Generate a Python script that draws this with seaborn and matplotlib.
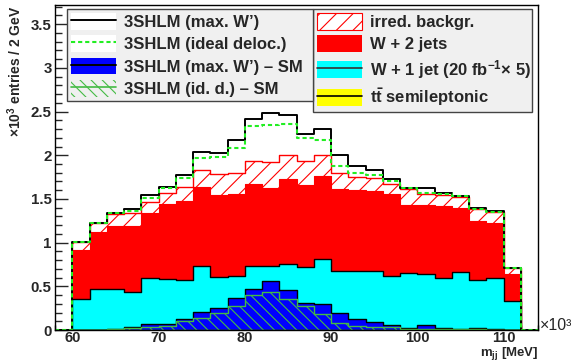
import numpy as np
import pandas as pd
import matplotlib
matplotlib.use("Agg")
import matplotlib.pyplot as plt
import seaborn as sns
from matplotlib.patches import Patch
from matplotlib.lines import Line2D
from matplotlib.legend_handler import HandlerTuple
from matplotlib.ticker import MultipleLocator

# ---------------- data (x10^3 entries / 2 GeV) ----------------
bin_low = [60, 62, 64, 66, 68, 70, 72, 74, 76, 78, 80, 82, 84,
           86, 88, 90, 92, 94, 96, 98, 100, 102, 104, 106, 108, 110]
bin_width = 2
w1jet = [0.35, 0.47, 0.47, 0.43, 0.59, 0.58, 0.57, 0.73, 0.61, 0.62, 0.73, 0.73, 0.76,
         0.72, 0.81, 0.68, 0.68, 0.67, 0.62, 0.65, 0.64, 0.60, 0.66, 0.57, 0.60, 0.33]
w2jet = [0.57, 0.65, 0.72, 0.76, 0.75, 0.86, 0.91, 0.91, 0.94, 0.94, 0.94, 0.90, 0.97,
         0.94, 0.95, 0.93, 0.92, 0.92, 0.94, 0.78, 0.79, 0.82, 0.74, 0.68, 0.63, 0.31]
irred = [0.09, 0.11, 0.14, 0.15, 0.13, 0.13, 0.16, 0.19, 0.23, 0.24, 0.27, 0.29, 0.27,
         0.27, 0.24, 0.19, 0.15, 0.15, 0.11, 0.18, 0.13, 0.13, 0.12, 0.13, 0.12, 0.07]
ttbar = [0.0] * 26
sig_maxw = [0.00, 0.00, 0.01, 0.04, 0.07, 0.07, 0.13, 0.21, 0.25, 0.37, 0.47, 0.56, 0.46,
            0.31, 0.30, 0.20, 0.13, 0.09, 0.06, 0.02, 0.06, 0.02, 0.01, 0.02, 0.01, 0.00]
sig_idd = [0.00, 0.00, 0.01, 0.02, 0.04, 0.05, 0.10, 0.14, 0.20, 0.28, 0.40, 0.43, 0.36,
           0.27, 0.18, 0.08, 0.05, 0.03, 0.03, 0.01, 0.01, 0.01, 0.01, 0.01, 0.00, 0.00]

xticks = [60, 70, 80, 90, 100, 110]
xtick_labels = ["60", "70", "80", "90", "100", "110"]
yticks = [0, 0.5, 1, 1.5, 2, 2.5, 3, 3.5]
ytick_labels = ["0", "0.5", "1", "1.5", "2", "2.5", "3", "3.5"]

legend_left_labels = ["3SHLM (max. W\u2019)", "3SHLM (ideal deloc.)",
                      "3SHLM (max. W\u2019) \u2013 SM", "3SHLM (id. d.) \u2013 SM"]
legend_right_labels = ["irred. backgr.", "W + 2 jets",
                       r"W + 1 jet (20 fb$^{-1}$$\times$ 5)", r"t$\bar{\rm t}$ semileptonic"]

# ---------------- style ----------------
sns.set_theme(style="ticks")
plt.rcParams["font.family"] = ["Liberation Sans", "DejaVu Sans"]
plt.rcParams["font.weight"] = "bold"
plt.rcParams["axes.labelweight"] = "bold"
plt.rcParams["mathtext.fontset"] = "custom"
plt.rcParams["mathtext.rm"] = "Liberation Sans:bold"
plt.rcParams["mathtext.bf"] = "Liberation Sans:bold"
plt.rcParams["mathtext.it"] = "Liberation Sans:bold:italic"
plt.rcParams["mathtext.default"] = "rm"
plt.rcParams["hatch.linewidth"] = 0.8

C_CYAN = "#00ffff"
C_RED = "#ff0000"
C_BLUE = "#0000ff"
C_YEL = "#ffff00"
C_GDASH = "#22ee22"
C_GHATCH = "#44bb44"
NONE = (1, 1, 1, 0)

fig = plt.figure(figsize=(5.71, 3.62), dpi=100)
ax = fig.add_axes([55 / 571, 1 - 330 / 362, 483 / 571, 325 / 362])

# ---------------- build tables ----------------
df = pd.DataFrame({
    "m": np.array(bin_low, dtype=float) + bin_width / 2,
    "w1jet": w1jet, "w2jet": w2jet, "irred": irred, "ttbar": ttbar,
    "sig_maxw": sig_maxw, "sig_idd": sig_idd,
})
edges = list(bin_low) + [bin_low[-1] + bin_width]
# cumulative stack (bottom -> top): ttbar, W+1 jet, W+2 jets, irred.
df["s_ttbar"] = df["ttbar"]
df["s_w1"] = df["s_ttbar"] + df["w1jet"]
df["s_w2"] = df["s_w1"] + df["w2jet"]
df["s_sm"] = df["s_w2"] + df["irred"]
df["tot_maxw"] = df["s_sm"] + df["sig_maxw"]
df["tot_idd"] = df["s_sm"] + df["sig_idd"]

# padded table for outline histograms (empty bins on either side)
pad = pd.DataFrame({"m": [bin_low[0] - bin_width / 2, bin_low[-1] + 1.5 * bin_width],
                    "tot_maxw": [0.0, 0.0], "tot_idd": [0.0, 0.0]})
dfl = pd.concat([df[["m", "tot_maxw", "tot_idd"]], pad]).sort_values("m")
edges_pad = [bin_low[0] - bin_width] + edges + [bin_low[-1] + 2 * bin_width]


def filled(col, z, color, **kw):
    sns.histplot(data=df, x="m", weights=col, bins=edges, element="step",
                 fill=True, alpha=1, ax=ax, zorder=z, color=color, **kw)


filled("s_sm", 1.0, C_RED, facecolor="white", edgecolor=C_RED, hatch="//", linewidth=1.0)
filled("s_w2", 1.1, C_RED, facecolor=C_RED, edgecolor=C_RED, linewidth=0.8)
filled("s_w1", 1.2, C_CYAN, facecolor=C_CYAN, edgecolor="black", linewidth=1.0)
filled("s_ttbar", 1.3, C_YEL, facecolor=C_YEL, edgecolor="black", linewidth=0.8)
filled("sig_maxw", 1.4, C_BLUE, facecolor=C_BLUE, edgecolor="black", linewidth=1.0)
filled("sig_idd", 1.5, C_GHATCH, facecolor=NONE, edgecolor=C_GHATCH, hatch="\\\\\\",
       linewidth=1.0)

sns.histplot(data=dfl, x="m", weights="tot_maxw", bins=edges_pad, element="step",
             fill=False, color="black", linewidth=1.4, ax=ax, zorder=2.0)
sns.histplot(data=dfl, x="m", weights="tot_idd", bins=edges_pad, element="step",
             fill=False, color=C_GDASH, linewidth=1.5, linestyle=(0, (2.0, 1.4)),
             ax=ax, zorder=2.1)

# ---------------- axes ----------------
ax.set_xlim(edges_pad[0], edges_pad[-1])
ax.set_ylim(0, 3.72)
ax.set_axisbelow(True)
ax.set_xticks(xticks, labels=xtick_labels)
ax.set_yticks(yticks, labels=ytick_labels)
ax.xaxis.set_minor_locator(MultipleLocator(2))
ax.yaxis.set_minor_locator(MultipleLocator(0.1))
ax.tick_params(axis="x", which="major", direction="in", length=7, width=1, pad=0.8,
               labelsize=10.5, top=False)
ax.tick_params(axis="x", which="minor", direction="in", length=3.6, width=1, top=False)
ax.tick_params(axis="y", which="major", direction="in", length=9.4, width=1, pad=2.5,
               labelsize=10.8, right=False)
ax.tick_params(axis="y", which="minor", direction="in", length=5, width=1, right=False)
for lab in ax.get_xticklabels() + ax.get_yticklabels():
    lab.set_fontweight("bold")
for s in ax.spines.values():
    s.set_visible(True)
    s.set_color("black")
    s.set_linewidth(1.0)

ax.set_ylabel(r"$\times$10$^{3}$ entries / 2 GeV", loc="top", fontsize=10, fontweight="bold")
ax.yaxis.set_label_coords(-0.064, 1.0)
ax.set_xlabel(r"m$_{\rm jj}$ [MeV]", loc="right", fontsize=9.5, fontweight="bold",
              va="bottom")
ax.xaxis.set_label_coords(1.0, (330 - 361.5) / 325)
ax.text(1.004, 0.0, "\u00d710\u00b3", transform=ax.transAxes, ha="left", va="baseline",
        fontsize=11.5, fontweight="normal")

# ---------------- legends ----------------
white = Patch(facecolor="white", edgecolor="none")
h_left = [
    (white, Line2D([], [], color="black", lw=1.4)),
    (white, Line2D([], [], color=C_GDASH, lw=1.5, ls=(0, (2.0, 1.4)))),
    (Patch(facecolor=C_BLUE, edgecolor="none"), Line2D([], [], color="black", lw=1.4)),
    (Patch(facecolor=NONE, edgecolor=C_GHATCH, hatch="\\\\\\", lw=0),
     Line2D([], [], color=C_GHATCH, lw=1.2)),
]
h_right = [
    Patch(facecolor="white", edgecolor=C_RED, hatch="//", lw=0.8),
    Patch(facecolor=C_RED, edgecolor="none"),
    (Patch(facecolor=C_CYAN, edgecolor="none"), Line2D([], [], color="#333333", lw=1.2)),
    (Patch(facecolor=C_YEL, edgecolor="none"), Line2D([], [], color="black", lw=1.2)),
]
common = dict(loc="upper left", mode="expand", borderaxespad=0, fontsize=12,
              handlelength=2.7, handleheight=1.15, handletextpad=0.48, labelspacing=0.33,
              borderpad=0.24, fancybox=False, shadow=False, frameon=True,
              handler_map={tuple: HandlerTuple(ndivide=1, pad=0)})
ax_h = 325.0
x0 = (67 - 55) / 483
xm = (313 - 55) / 483
x1 = (532 - 55) / 483
ytop = (330 - 9) / ax_h
yb = (330 - 106) / ax_h
leg2 = ax.legend(h_right, legend_right_labels,
                 bbox_to_anchor=(xm, yb, x1 - xm, ytop - yb), **common)
leg2.get_frame().set_facecolor("#f0f0f0")
leg2.get_frame().set_edgecolor("#444444")
leg2.get_frame().set_alpha(1)
leg2.set_zorder(5)
ax.add_artist(leg2)
leg1 = ax.legend(h_left, legend_left_labels,
                 bbox_to_anchor=(x0, yb, xm - x0, ytop - yb), **common)
leg1.get_frame().set_facecolor("#f0f0f0")
leg1.get_frame().set_edgecolor("#444444")
leg1.get_frame().set_alpha(1)
leg1.set_zorder(5)
for leg in (leg1, leg2):
    for t in leg.get_texts():
        t.set_fontweight("bold")

fig.savefig("out.png", dpi=100)
